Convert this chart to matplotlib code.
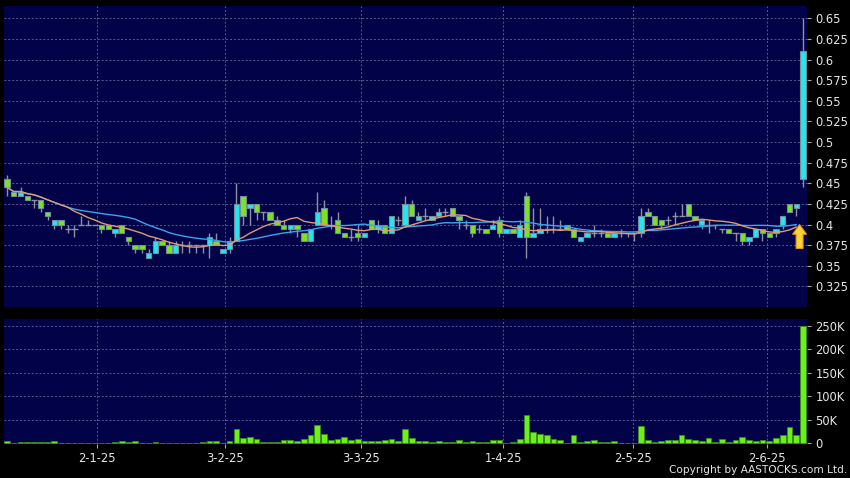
import numpy as np
import pandas as pd
import matplotlib.pyplot as plt

plt.switch_backend('Agg')

# daily candles, oldest first
opens = [0.455, 0.44, 0.435, 0.435, 0.43, 0.43, 0.415, 0.40, 0.405, 0.395,
         0.395, 0.40, 0.40, 0.40, 0.40, 0.40, 0.39, 0.40, 0.385, 0.375,
         0.375, 0.36, 0.365, 0.38, 0.375, 0.365, 0.375, 0.375, 0.375, 0.375,
         0.375, 0.38, 0.365, 0.37, 0.38, 0.435, 0.42, 0.425, 0.415, 0.415,
         0.405, 0.40, 0.395, 0.40, 0.39, 0.38, 0.40, 0.42, 0.40, 0.405,
         0.39, 0.385, 0.39, 0.385, 0.405, 0.395, 0.40, 0.39, 0.405, 0.40,
         0.425, 0.405, 0.41, 0.405, 0.41, 0.415, 0.42, 0.41, 0.40, 0.40,
         0.395, 0.395, 0.395, 0.405, 0.39, 0.395, 0.385, 0.435, 0.385, 0.39,
         0.395, 0.395, 0.395, 0.40, 0.395, 0.38, 0.385, 0.39, 0.39, 0.39,
         0.385, 0.39, 0.39, 0.39, 0.39, 0.415, 0.41, 0.405, 0.405, 0.41,
         0.41, 0.425, 0.41, 0.40, 0.40, 0.40, 0.395, 0.395, 0.39, 0.39,
         0.38, 0.385, 0.395, 0.39, 0.39, 0.40, 0.425, 0.42, 0.455]
highs = [0.46, 0.44, 0.445, 0.435, 0.43, 0.43, 0.415, 0.405, 0.405, 0.40,
         0.40, 0.41, 0.405, 0.40, 0.40, 0.40, 0.395, 0.40, 0.385, 0.375,
         0.375, 0.37, 0.385, 0.38, 0.38, 0.38, 0.38, 0.38, 0.375, 0.375,
         0.39, 0.39, 0.37, 0.385, 0.45, 0.435, 0.425, 0.425, 0.415, 0.415,
         0.41, 0.405, 0.40, 0.40, 0.39, 0.395, 0.44, 0.43, 0.41, 0.415,
         0.39, 0.395, 0.40, 0.39, 0.405, 0.405, 0.40, 0.41, 0.41, 0.435,
         0.43, 0.415, 0.42, 0.41, 0.42, 0.42, 0.42, 0.41, 0.405, 0.40,
         0.40, 0.395, 0.405, 0.41, 0.395, 0.395, 0.405, 0.44, 0.42, 0.42,
         0.41, 0.41, 0.405, 0.40, 0.395, 0.385, 0.39, 0.40, 0.395, 0.39,
         0.39, 0.395, 0.39, 0.39, 0.42, 0.42, 0.41, 0.405, 0.41, 0.415,
         0.425, 0.425, 0.41, 0.405, 0.405, 0.40, 0.395, 0.395, 0.39, 0.39,
         0.385, 0.395, 0.395, 0.39, 0.395, 0.41, 0.425, 0.425, 0.65]
lows = [0.435, 0.435, 0.435, 0.43, 0.42, 0.415, 0.405, 0.395, 0.395, 0.39,
        0.385, 0.40, 0.40, 0.40, 0.39, 0.395, 0.385, 0.39, 0.375, 0.365,
        0.365, 0.36, 0.365, 0.375, 0.365, 0.365, 0.365, 0.365, 0.365, 0.365,
        0.36, 0.375, 0.365, 0.365, 0.38, 0.40, 0.40, 0.405, 0.405, 0.405,
        0.40, 0.395, 0.39, 0.385, 0.38, 0.38, 0.40, 0.40, 0.395, 0.39,
        0.385, 0.38, 0.38, 0.385, 0.395, 0.39, 0.39, 0.39, 0.40, 0.40,
        0.41, 0.405, 0.405, 0.405, 0.41, 0.41, 0.41, 0.395, 0.395, 0.385,
        0.39, 0.39, 0.395, 0.385, 0.39, 0.39, 0.385, 0.36, 0.385, 0.39,
        0.39, 0.39, 0.395, 0.395, 0.385, 0.38, 0.385, 0.385, 0.385, 0.385,
        0.385, 0.385, 0.385, 0.38, 0.385, 0.41, 0.40, 0.395, 0.40, 0.40,
        0.41, 0.41, 0.405, 0.395, 0.39, 0.395, 0.39, 0.39, 0.38, 0.375,
        0.375, 0.385, 0.38, 0.385, 0.385, 0.395, 0.415, 0.41, 0.445]
closes = [0.445, 0.435, 0.44, 0.43, 0.43, 0.42, 0.41, 0.405, 0.40, 0.395,
          0.395, 0.40, 0.40, 0.40, 0.395, 0.395, 0.395, 0.39, 0.38, 0.37,
          0.37, 0.365, 0.38, 0.375, 0.365, 0.375, 0.375, 0.375, 0.375, 0.375,
          0.385, 0.375, 0.37, 0.38, 0.425, 0.41, 0.425, 0.415, 0.415, 0.405,
          0.40, 0.395, 0.40, 0.395, 0.38, 0.395, 0.415, 0.40, 0.40, 0.39,
          0.385, 0.385, 0.385, 0.39, 0.395, 0.40, 0.39, 0.41, 0.405, 0.425,
          0.41, 0.41, 0.41, 0.41, 0.415, 0.415, 0.41, 0.405, 0.40, 0.39,
          0.395, 0.39, 0.40, 0.39, 0.395, 0.39, 0.40, 0.385, 0.39, 0.395,
          0.395, 0.395, 0.395, 0.395, 0.385, 0.385, 0.39, 0.39, 0.39, 0.385,
          0.39, 0.39, 0.39, 0.39, 0.41, 0.41, 0.40, 0.40, 0.405, 0.41,
          0.41, 0.41, 0.405, 0.405, 0.40, 0.40, 0.395, 0.39, 0.39, 0.38,
          0.385, 0.395, 0.39, 0.385, 0.395, 0.41, 0.415, 0.425, 0.61]
# volume in thousands of shares
volumes_k = [4, 0.5, 3.5, 2, 2, 2, 2, 4, 1.5, 1.5,
             1.5, 1.5, 1.5, 0.5, 0.5, 0.5, 2, 4, 3, 4,
             1, 0.5, 3, 0.5, 0.5, 1, 1, 1, 1, 2,
             5.5, 4, 1, 5.5, 30, 11, 13, 8.5, 3.5, 3.5,
             2, 7, 7, 4, 8.5, 18, 39, 19, 8, 9,
             13, 7, 8.5, 5, 4, 5.5, 7, 10, 5, 30,
             11, 4, 4, 2, 4, 3.5, 2.5, 7, 2.5, 4,
             2.5, 2.5, 7, 8, 0.5, 2, 10, 60, 23, 19,
             17, 10, 6, 1.5, 17, 2, 5, 8, 3, 3,
             5, 0.5, 1.5, 1.5, 37, 8, 2, 5, 8, 7,
             17, 9, 7, 5, 11, 3.5, 10, 3.5, 6, 13,
             6, 5.5, 8, 5, 12, 18, 34, 18, 250]

date_ticks = [13.3, 32.3, 52.5, 73.6, 92.8, 112.6]
date_labels = ['2-1-25', '3-2-25', '3-3-25', '1-4-25', '2-5-25', '2-6-25']
price_ticks = [0.325, 0.35, 0.375, 0.4, 0.425, 0.45, 0.475, 0.5, 0.525,
               0.55, 0.575, 0.6, 0.625, 0.65]
vol_ticks = [0, 50, 100, 150, 200, 250]

BG = '#020249'
UP = '#22e6f0'
DOWN = '#7be41f'
WICK = '#8f8f9f'
GRID = '#5a5a90'
TXT = '#e6e6e6'

df = pd.DataFrame({'open': opens, 'high': highs, 'low': lows,
                   'close': closes, 'vol': volumes_k})
x = np.arange(len(df))
# moving averages, the live (last) bar is left out
ma10 = df['close'][:-1].rolling(10, min_periods=1).mean()
ma20 = df['close'][:-1].rolling(20, min_periods=1).mean()

fig = plt.figure(figsize=(8.5, 4.78), dpi=100, facecolor='black')
ax1 = fig.add_axes([4 / 850, 1 - 307 / 478, 803 / 850, 301 / 478])
ax2 = fig.add_axes([4 / 850, 1 - 444 / 478, 803 / 850, 125 / 478])

for ax in (ax1, ax2):
    ax.set_facecolor(BG)
    for s in ax.spines.values():
        s.set_visible(False)
    ax.set_xlim(-0.45, 118.6)
    ax.set_xticks(date_ticks)
    ax.grid(True, color=GRID, linestyle=(0, (2, 2)), linewidth=0.7)
    ax.set_axisbelow(True)
    ax.yaxis.tick_right()
    ax.tick_params(axis='y', colors='#aaaaaa', labelcolor=TXT, length=3,
                   width=0.8, pad=3, labelsize=8.3)

# price panel
ax1.tick_params(axis='x', length=0, labelbottom=False)
ax1.set_ylim(0.300, 0.665)
ax1.set_yticks(price_ticks)
ax1.set_yticklabels(['{:g}'.format(v) for v in price_ticks])

ax1.vlines(x, df['low'], df['high'], color=WICK, linewidth=1.0, zorder=2)
up = df['close'] > df['open']
down = df['close'] < df['open']
flat = df['close'] == df['open']
for mask, col in ((up, UP), (down, DOWN)):
    bottom = np.minimum(df['open'], df['close'])[mask]
    height = (df['close'] - df['open']).abs()[mask]
    ax1.bar(x[mask], height, bottom=bottom, width=0.8, color=col,
            edgecolor='#6f8f9a', linewidth=0.8, zorder=3)
ax1.hlines(df['close'][flat], x[flat] - 0.45, x[flat] + 0.45,
           color=WICK, linewidth=1.0, zorder=3)

ax1.plot(x[:-1], ma20, color='#3aa3f0', linewidth=1.0, zorder=4)
ax1.plot(x[:-1], ma10, color='#e39a6e', linewidth=1.0, zorder=4)

# signal arrow under the last moving average point
ax1.annotate('', xy=(x[-2] + 0.5, ma20.iloc[-1]),
             xytext=(x[-2] + 0.5, ma20.iloc[-1] - 0.029),
             arrowprops=dict(arrowstyle='simple,head_length=0.7,'
                             'head_width=1.0,tail_width=0.5',
                             fc='#ffd23c', ec='#e0950f', lw=0.8,
                             shrinkA=0, shrinkB=0), zorder=6)

# volume panel
ax2.bar(x, df['vol'], width=0.85, color='#6cf01c', edgecolor='#3b8c12',
        linewidth=0.6, zorder=3)
ax2.set_ylim(-1.5, 264.5)
ax2.set_yticks(vol_ticks)
ax2.set_yticklabels(['0' if v == 0 else '{}K'.format(v) for v in vol_ticks])
ax2.yaxis.get_gridlines()[0].set_visible(False)
ax2.set_xticklabels(date_labels)
ax2.tick_params(axis='x', colors='#aaaaaa', labelcolor=TXT, length=3,
                width=0.8, pad=3, labelsize=8.3)

fig.text(847 / 850, 1 - 470 / 478, 'Copyright by AASTOCKS.com Ltd.',
         color=TXT, fontsize=7.6, ha='right', va='center')

plt.savefig('out.png', dpi=100, facecolor='black')
plt.close()
